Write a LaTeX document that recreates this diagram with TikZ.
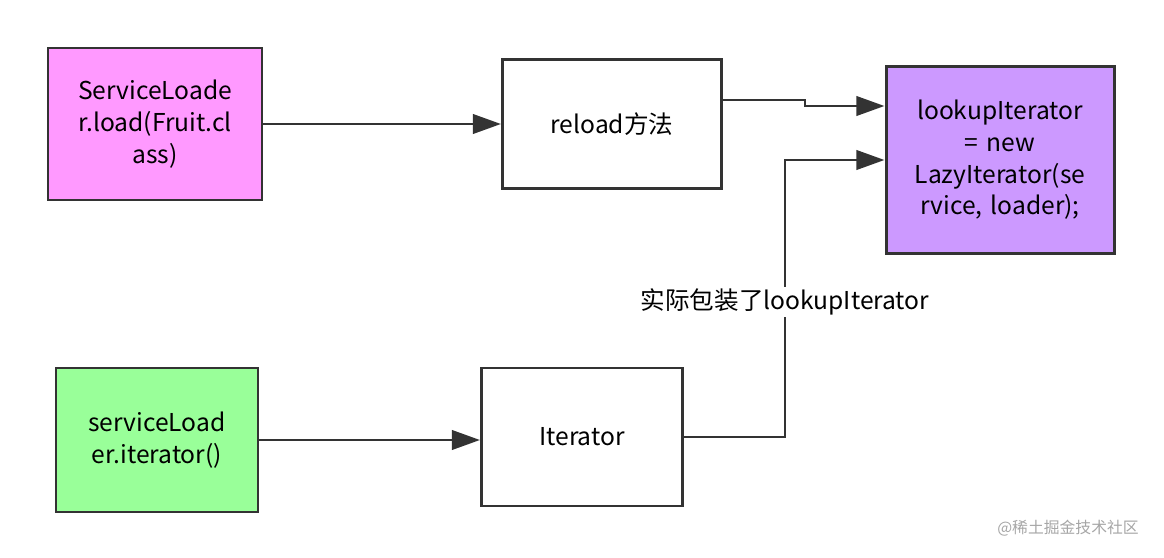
\documentclass[tikz,border=0pt]{standalone}
\usepackage{fontspec}
\setmainfont{Noto Sans CJK SC}
\usetikzlibrary{arrows.meta,positioning}
\definecolor{boxpink}{HTML}{FF99FF}
\definecolor{boxpurple}{HTML}{CC99FF}
\definecolor{boxgreen}{HTML}{99FF99}
\definecolor{linegray}{HTML}{333333}
\begin{document}
\begin{tikzpicture}[x=0.02cm,y=-0.02cm,
  box/.style={draw=linegray,line width=1.7pt,align=center,inner sep=0pt,
    font=\fontsize{14}{18}\selectfont},
  conn/.style={draw=linegray,line width=1.7pt,
    -{Triangle[length=16pt,width=11pt]}}]
\useasboundingbox (0,0) rectangle (1164,558);
% boxes
\node[box,fill=boxpink,minimum width=214*0.02cm,minimum height=152*0.02cm,text width=200*0.02cm]
  (load) at (155,124) {ServiceLoade\\r.load(Fruit.cl\\ass)};
\node[box,minimum width=219*0.02cm,minimum height=129*0.02cm] (reload) at (612,124) {reload方法};
\node[box,fill=boxpurple,minimum width=228*0.02cm,minimum height=187*0.02cm,text width=210*0.02cm]
  (lookup) at (1000,160) {lookupIterator\\= new\\LazyIterator(se\\rvice, loader);};
\node[box,fill=boxgreen,minimum width=202*0.02cm,minimum height=144*0.02cm,text width=190*0.02cm]
  (iter) at (157,440) {serviceLoad\\er.iterator()};
\node[box,minimum width=201*0.02cm,minimum height=138*0.02cm] (it) at (582,437) {Iterator};
% connectors
\draw[conn] (load) -- (reload.west |- load);
\draw[conn] (iter) -- (it.west |- iter);
\draw[conn] (reload.east |- 0,100) -- (805,100) -- (805,106) -- (lookup.west |- 0,106);
\draw[conn] (it.east |- 0,437) -- (785,437) -- (785,160) -- (lookup.west |- 0,160);
\node[fill=white,inner sep=1pt,font=\fontsize{14}{16}\selectfont] (wrap) at (785,302) {实际包装了lookupIterator};
\node[text=gray!70,font=\fontsize{9}{11}\selectfont] (mark) at (1068,528) {@稀土掘金技术社区};
\end{tikzpicture}
\end{document}
